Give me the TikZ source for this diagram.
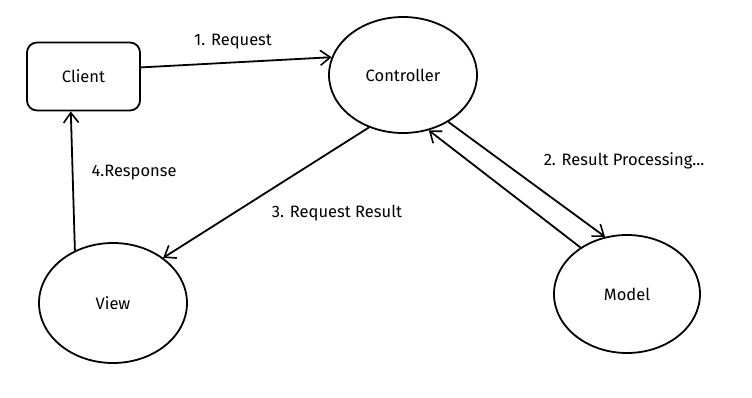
\documentclass[tikz,border=0pt]{standalone}
\usepackage{fontspec}
\setmainfont{Fira Sans}
\usetikzlibrary{arrows.meta, positioning, shapes.geometric}

\tikzset{
    block/.style={draw, rounded corners=10pt, minimum width=113pt, minimum height=68pt, inner sep=0pt},
    bubble/.style={draw, ellipse, inner sep=0pt},
    flow/.style={-{Straight Barb[length=10pt, width=15pt, line width=1.6pt]}, line width=1.8pt},
    tag/.style={font=\fontsize{16.5}{18}\selectfont}
}

\begin{document}
\begin{tikzpicture}[x=1pt, y=-1pt, line width=1.8pt, font=\fontsize{16.5}{18}\selectfont]
    \useasboundingbox (0,0) rectangle (752,398);

    % Nodes
    \node[block] (client) at (83.5,76.5) {Client};
    \node[bubble, minimum width=148pt, minimum height=116pt] (ctrl) at (403,75) {Controller};
    \node[bubble, minimum width=148pt, minimum height=120pt] (view) at (113,303) {View};
    \node[bubble, minimum width=146pt, minimum height=118pt] (model) at (627,294) {Model};

    % Connectors
    \draw[flow] (client.9) -- (ctrl.166);
    \draw[flow] (ctrl.314) -- (model.111);
    \draw[flow] (model.135) -- (ctrl.295);
    \draw[flow] (ctrl.237) -- (view.42);
    \draw[flow] (view.126) -- (client.250);

    % Labels
    \node[tag] (req) at (233,42) {1. Request};
    \node[tag] (proc) at (624,161) {2. Result Processing...};
    \node[tag] (res) at (337,213) {3. Request Result};
    \node[tag] (resp) at (134,173) {4.Response};
\end{tikzpicture}
\end{document}
